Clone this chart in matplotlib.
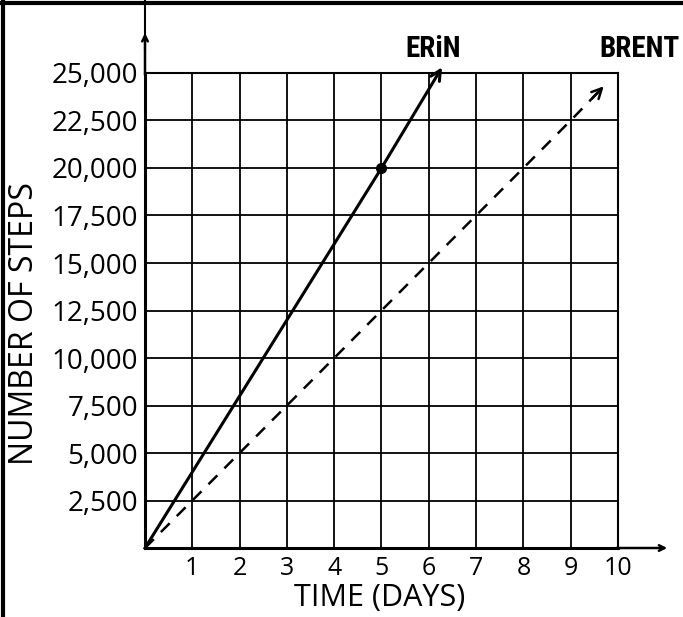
import matplotlib.pyplot as plt
from matplotlib.lines import Line2D

days = [1, 2, 3, 4, 5, 6, 7, 8, 9, 10]
step_ticks = [2500, 5000, 7500, 10000, 12500, 15000, 17500, 20000, 22500, 25000]
step_labels = ['2,500', '5,000', '7,500', '10,000', '12,500', '15,000',
               '17,500', '20,000', '22,500', '25,000']

erin_days = [0, 5, 6.28]
erin_steps = [0, 20000, 25300]
brent_days = [0, 9, 9.7]
brent_steps = [0, 22500, 24300]

plt.rcParams['font.family'] = ['Open Sans', 'DejaVu Sans']

fig = plt.figure(figsize=(6.83, 6.17), dpi=100)
ax = fig.add_axes([0.2123, 0.1118, 0.6925, 0.7699])

ax.set_xlim(0, 10)
ax.set_ylim(0, 25000)
ax.set_xticks(days)
ax.set_xticklabels([str(d) for d in days])
ax.set_yticks(step_ticks)
ax.set_yticklabels(step_labels)
ax.tick_params(axis='y', length=0, labelsize=20, pad=5)
ax.tick_params(axis='x', length=0, labelsize=18, pad=6)
ax.grid(True, color='black', lw=1.3)
for s in ax.spines.values():
    s.set_linewidth(1.5)
ax.spines['left'].set_linewidth(2.2)
ax.spines['bottom'].set_linewidth(2.2)

# axis extensions with arrows
ax.annotate('', xy=(0, 1.09), xytext=(0, 0.99), xycoords='axes fraction',
            arrowprops=dict(arrowstyle='->', lw=1.8, color='black'), annotation_clip=False)
ax.add_artist(Line2D([0, 0], [1.05, 1.2], transform=ax.transAxes, color='black',
                     lw=1.5, clip_on=False))
ax.annotate('', xy=(1.11, 0), xytext=(0.99, 0), xycoords='axes fraction',
            arrowprops=dict(arrowstyle='->', lw=1.8, color='black'), annotation_clip=False)

# Erin (solid) and Brent (dashed)
ax.plot(erin_days[:-1], erin_steps[:-1], color='black', lw=2.2, clip_on=False, zorder=3)
ax.annotate('', xy=(erin_days[-1], erin_steps[-1]), xytext=(erin_days[1], erin_steps[1]),
            arrowprops=dict(arrowstyle='->', lw=2.2, color='black', shrinkA=0, shrinkB=0,
                            mutation_scale=18),
            annotation_clip=False, zorder=3)
ax.plot([erin_days[1]], [erin_steps[1]], 'o', color='black', ms=7, zorder=4)

ax.plot(brent_days, brent_steps, color='black', lw=1.8, ls=(0, (5, 4)), zorder=3)
ax.annotate('', xy=(brent_days[-1], brent_steps[-1]), xytext=(9.45, 23650),
            arrowprops=dict(arrowstyle='->', lw=1.8, color='black', shrinkA=0, shrinkB=0,
                            mutation_scale=18),
            annotation_clip=False, zorder=3)

ax.text(6.1, 25550, 'ERiN', fontsize=21, fontweight='bold', ha='center', va='bottom',
        family=['Roboto Condensed', 'Roboto', 'DejaVu Sans'])
ax.text(10.46, 25550, 'BRENT', fontsize=21, fontweight='bold', ha='center', va='bottom',
        family=['Roboto Condensed', 'Roboto', 'DejaVu Sans'])

ax.set_xlabel('TIME (DAYS)', fontsize=22)
ax.xaxis.set_label_coords(0.497, -0.073)
ax.set_ylabel('NUMBER OF STEPS', fontsize=23)
ax.yaxis.set_label_coords(-0.22, 0.472)

# page frame lines
fig.add_artist(Line2D([0, 1], [0.995, 0.995], transform=fig.transFigure, color='black', lw=3))
fig.add_artist(Line2D([0.004, 0.004], [0, 1], transform=fig.transFigure, color='black', lw=3))

fig.savefig('out.png', dpi=100)
